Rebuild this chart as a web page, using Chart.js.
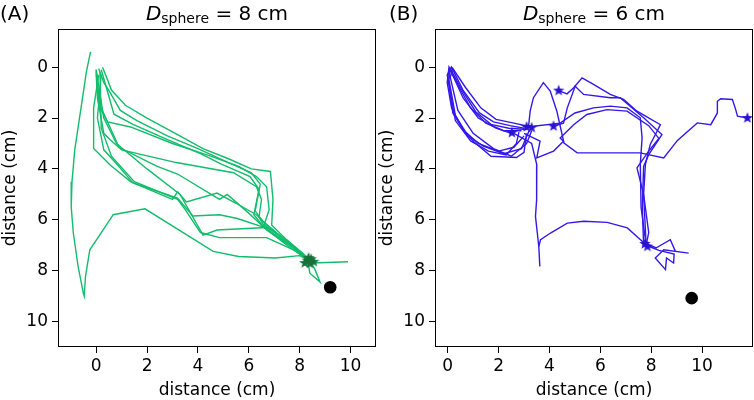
<!DOCTYPE html>
<html lang="en">
<head>
<meta charset="UTF-8">
<title>Trajectories</title>
<script src="https://cdn.jsdelivr.net/npm/chart.js"></script>
<style>
  html, body { margin: 0; padding: 0; background: #fff; }
  .panel { position: absolute; top: 0; width: 377px; height: 400px; }
</style>
</head>
<body>
<div class="panel" style="left:0"><canvas id="chartA" width="377" height="400"></canvas></div>
<div class="panel" style="left:377px"><canvas id="chartB" width="377" height="400"></canvas></div>
<script>
// axis ticks / limits (cm)
const tickValues = [0, 2, 4, 6, 8, 10]
const xLimitsA = [-1.5, 11]
const xLimitsB = [-0.5, 12]
const yLimits = [-1.5, 11]

// (A) D_sphere = 8 cm
const trackA1 = [[-0.22,-0.6],[-0.38,0.16],[-0.84,3.24],[-0.95,4.5],[-0.98,5.5],[-0.9,6.5],[-0.71,7.83],[-0.5,8.9],[-0.47,9.0],[-0.42,8.23],[-0.25,7.18],[0.28,6.39],[0.67,5.8],[1.92,5.57],[4.6,7.24],[5.6,7.44],[7.04,7.5],[8.0,7.41],[8.4,7.6]]
const trackA2 = [[0.25,0.0],[0.45,0.5],[0.6,0.9],[1.15,1.5],[2.0,2.0],[3.2,2.65],[4.2,3.2],[5.2,3.6],[6.1,4.0],[6.85,4.1],[6.95,5.2],[6.9,6.2],[7.5,6.8],[8.1,7.3],[8.4,7.6]]
const trackA3 = [[0.1,0.05],[0.3,0.6],[0.55,1.0],[0.95,1.7],[1.6,2.1],[2.8,2.7],[4.0,3.2],[5.2,3.75],[6.1,4.15],[6.45,4.6],[6.25,5.65],[6.55,6.05],[7.3,6.7],[8.3,7.55]]
const trackA4 = [[0.2,0.1],[0.4,0.8],[0.7,1.85],[1.45,2.25],[2.8,2.85],[4.1,3.4],[4.9,3.8],[6.05,4.3],[6.4,4.8],[6.2,5.8],[6.6,6.3],[7.5,7.0],[8.5,7.7],[9.9,7.65]]
const trackA5 = [[0.0,0.1],[0.1,1.5],[0.45,2.15],[1.35,2.35],[3.0,3.0],[4.5,3.5],[5.6,3.9],[6.3,4.3],[6.7,4.7],[6.8,5.6],[6.6,6.2],[7.6,6.9],[8.3,7.5],[8.4,8.1],[8.8,8.45],[8.6,7.95],[8.4,7.6]]
const trackA6 = [[0.0,0.3],[0.05,1.2],[0.3,2.6],[0.55,2.85],[1.0,3.25],[3.15,3.75],[5.4,4.15],[6.3,4.7],[6.5,5.2],[6.4,5.9],[6.7,6.4],[7.9,7.2],[8.3,7.6]]
const trackA7 = [[0.0,0.2],[0.15,1.5],[0.9,3.15],[2.4,3.9],[3.2,4.2],[4.85,5.2],[5.15,5.0],[5.9,5.65],[6.55,6.25],[7.6,7.0],[8.4,7.6]]
const trackA8 = [[0.1,0.3],[-0.1,1.6],[-0.1,3.2],[0.55,3.85],[1.35,4.5],[3.0,5.2],[3.2,4.9],[3.55,5.3],[4.75,4.95],[5.5,5.35],[6.3,5.8],[6.7,6.2],[7.8,7.1],[8.3,7.6]]
const trackA9 = [[0.2,0.3],[0.05,2.0],[0.3,3.25],[0.8,3.8],[1.45,4.55],[3.2,5.15],[3.8,5.85],[4.85,5.8],[5.55,5.95],[6.6,6.3],[7.8,7.1],[8.4,7.65]]
const trackA10 = [[0.15,0.2],[0.2,2.4],[0.6,3.5],[1.5,4.5],[3.2,5.2],[3.5,5.6],[4.1,6.5],[4.85,6.7],[6.7,6.7],[7.8,7.2],[8.35,7.6]]
const trackA11 = [[0.0,0.1],[0.3,2.0],[0.8,3.0],[2.0,4.0],[3.3,5.0],[4.2,6.6],[4.75,6.4],[6.7,6.3],[7.5,6.8],[8.3,7.5]]
const endsA = [[8.3,7.6],[8.45,7.55],[8.2,7.7],[8.55,7.65],[8.35,7.5],[8.4,7.72]]
const sphereA = [[9.2,8.65]]

// (B) D_sphere = 6 cm
const trackB1 = [[3.0,2.4],[2.45,2.3],[1.8,2.15],[1.25,1.8],[0.6,0.9],[0.15,0.0],[0.0,0.3],[0.2,1.8],[0.7,2.6],[1.05,2.95],[1.7,3.5],[2.7,3.55],[3.0,3.35],[3.1,2.6]]
const trackB2 = [[3.1,2.45],[2.4,2.4],[1.7,2.25],[1.1,1.75],[0.5,0.8],[0.1,0.05],[0.05,0.5],[0.3,1.9],[0.8,2.7],[1.4,3.1],[2.2,3.4],[2.9,3.2],[3.2,2.5]]
const trackB3 = [[2.9,2.5],[2.2,2.5],[1.5,2.2],[0.9,1.6],[0.4,0.7],[0.05,0.0],[-0.02,0.6],[0.15,1.6],[0.6,2.45],[1.2,3.0],[2.0,3.3],[2.6,3.15],[3.0,2.7]]
const trackB4 = [[3.3,2.35],[2.6,2.2],[1.9,2.05],[1.3,1.6],[0.7,0.8],[0.2,0.05],[0.1,0.4],[0.4,1.7],[1.0,2.6],[1.8,3.2],[2.5,3.5],[3.1,3.0],[3.3,2.5]]
const trackB5 = [[2.5,2.6],[1.9,2.4],[1.2,2.0],[0.6,1.2],[0.1,0.1],[-0.02,0.3],[0.3,2.1],[0.9,2.9],[1.6,3.3],[2.3,3.45],[2.7,3.0],[2.8,2.55]]
const trackB6 = [[3.17,2.4],[3.24,1.73],[3.37,1.2],[3.76,0.61],[4.03,0.94],[4.29,1.73],[4.57,2.98],[5.09,3.37],[7.57,3.37],[8.49,3.57],[9.03,2.88],[9.81,2.19],[10.34,2.26],[10.6,1.8],[10.6,1.34],[10.73,1.24],[11.19,1.27],[11.32,1.67],[11.39,1.93],[11.78,2.0]]
const trackB7 = [[4.36,0.92],[4.69,1.05],[4.95,0.81],[5.28,0.42],[5.73,0.68],[6.39,1.07],[6.91,1.27],[7.44,1.73],[8.36,2.26],[8.23,2.52],[7.96,3.04],[7.77,3.83],[7.7,5.0],[7.75,6.0],[7.8,7.0]]
const trackB8 = [[4.16,2.32],[4.55,2.2],[4.7,1.6],[5.01,0.75],[5.34,1.07],[6.39,1.2],[6.78,1.2],[7.7,1.99],[8.42,2.65],[8.16,3.04],[7.9,3.44],[7.7,3.9],[7.65,5.5],[7.7,7.0]]
const trackB9 = [[3.37,2.32],[4.42,2.2],[5.0,1.8],[5.73,1.6],[6.39,1.53],[7.05,1.6],[7.57,1.99],[7.64,2.78],[7.57,3.83],[7.6,5.5],[7.8,7.0]]
const trackB10 = [[3.0,2.6],[3.63,2.91],[3.5,3.57],[4.16,3.3],[4.55,2.91],[4.42,2.78],[4.95,2.26],[5.47,1.86],[6.26,1.67],[7.05,1.73],[7.9,2.3],[8.3,2.8],[7.9,3.3],[7.44,3.96],[7.7,5.0],[7.9,6.5],[7.8,7.0]]
const trackB11 = [[2.6,2.6],[3.3,3.0],[3.5,3.83],[3.5,4.4],[3.49,5.2],[3.45,5.87],[3.58,7.05],[3.62,7.83]]
const trackB12 = [[3.58,7.05],[3.65,6.78],[4.04,6.52],[4.7,6.13],[5.35,6.06],[6.27,6.1],[7.06,6.32],[7.72,6.91]]
const trackB13 = [[7.7,6.9],[8.2,7.1],[8.75,6.78],[8.95,7.24],[9.47,7.31],[8.49,7.18],[8.16,7.5],[8.56,7.96],[8.6,7.5],[8.88,7.7],[8.9,7.35],[8.3,7.2],[7.8,7.0]]
const endsB = [[2.52,2.58],[3.1,2.35],[3.3,2.38],[4.16,2.32],[4.36,0.92],[11.78,2.0],[7.75,6.95],[7.85,7.05]]
const sphereB = [[9.59,9.08]]

const greenLine = '#12bd6c'
const greenStar = '#17733a'
const blueLine = '#3318ec'
const blueStar = '#2a12d2'

function makeStar(color, r) {
  const c = document.createElement('canvas')
  const s = Math.ceil(r * 2 + 2)
  c.width = s
  c.height = s
  const g = c.getContext('2d')
  g.beginPath()
  for (let i = 0; i < 10; i++) {
    const rad = i % 2 === 0 ? r : r * 0.4
    const a = -Math.PI / 2 + i * Math.PI / 5
    g.lineTo(s / 2 + rad * Math.cos(a), s / 2 + rad * Math.sin(a))
  }
  g.closePath()
  g.fillStyle = color
  g.fill()
  return c
}

const toXY = pts => pts.map(p => ({ x: p[0], y: p[1] }))

// draws the full box round the plot plus panel tag and title
const panelDecor = {
  id: 'panelDecor',
  afterDraw(chart, args, opts) {
    const { ctx, chartArea: a } = chart
    ctx.save()
    ctx.strokeStyle = '#000'
    ctx.lineWidth = 1
    ctx.strokeRect(Math.round(a.left) + 0.5, Math.round(a.top) + 0.5,
      Math.round(a.right - a.left) - 1, Math.round(a.bottom - a.top) - 1)

    ctx.fillStyle = '#000'
    ctx.textBaseline = 'alphabetic'
    ctx.textAlign = 'left'
    ctx.font = '20px "DejaVu Sans"'
    ctx.fillText(opts.tag, opts.tagX, 19.5)

    const rest = ' = ' + opts.size + ' cm'
    ctx.font = 'italic 20px "DejaVu Sans"'
    const wD = ctx.measureText('D').width
    ctx.font = '14px "DejaVu Sans"'
    const wSub = ctx.measureText('sphere').width
    ctx.font = '20px "DejaVu Sans"'
    const wRest = ctx.measureText(rest).width
    let x = (a.left + a.right) / 2 - (wD + wSub + wRest) / 2
    ctx.font = 'italic 20px "DejaVu Sans"'
    ctx.fillText('D', x, 19.5)
    x += wD
    ctx.font = '14px "DejaVu Sans"'
    ctx.fillText('sphere', x, 22.5)
    x += wSub
    ctx.font = '20px "DejaVu Sans"'
    ctx.fillText(rest, x, 19.5)
    ctx.restore()
  }
}

function makePanel(id, tracks, ends, sphere, xLimits, lineColor, starColor, tag, tagX, size) {
  const star = makeStar(starColor, 6)
  const datasets = [
    { data: toXY(sphere), showLine: false, pointStyle: 'circle', pointRadius: 6.3,
      backgroundColor: '#000', borderWidth: 0 },
    { data: toXY(ends), showLine: false, pointStyle: star, pointRadius: 6 }
  ]
  tracks.forEach(t => {
    datasets.push({ data: toXY(t), showLine: true, pointRadius: 0,
      borderColor: lineColor, borderWidth: 1.4, tension: 0 })
  })

  const font = { family: 'DejaVu Sans', size: 17 }
  const axisCommon = {
    type: 'linear',
    border: { display: false },
    grid: { drawOnChartArea: false, drawTicks: true, tickLength: 6, color: '#000', tickWidth: 1 },
    afterBuildTicks: s => { s.ticks = tickValues.map(v => ({ value: v })) }
  }

  return new Chart(document.getElementById(id), {
    type: 'scatter',
    data: { datasets },
    options: {
      responsive: false,
      animation: false,
      devicePixelRatio: 1,
      // no auto padding for the marker size, the plot box has to be exact
      layout: { autoPadding: false, padding: { top: 29, right: 1, left: 0, bottom: 0 } },
      plugins: {
        legend: { display: false },
        tooltip: { enabled: false },
        panelDecor: { tag, tagX, size }
      },
      scales: {
        x: {
          ...axisCommon,
          min: xLimits[0], max: xLimits[1],
          ticks: { color: '#000', font, padding: 3, maxRotation: 0 },
          title: { display: true, text: 'distance (cm)', color: '#000', font, padding: { top: 0, bottom: -1 } },
          afterFit: s => { s.height = 53; s.paddingLeft = 0; s.paddingRight = 0 }
        },
        y: {
          ...axisCommon,
          reverse: true,
          min: yLimits[0], max: yLimits[1],
          ticks: { color: '#000', font, padding: 4 },
          title: { display: true, text: 'distance (cm)', color: '#000', font, padding: { top: 0, bottom: 0 } },
          afterFit: s => { s.width = 58; s.paddingTop = 0; s.paddingBottom = 0 }
        }
      }
    },
    plugins: [panelDecor]
  })
}

makePanel('chartA',
  [trackA1, trackA2, trackA3, trackA4, trackA5, trackA6, trackA7, trackA8, trackA9, trackA10, trackA11],
  endsA, sphereA, xLimitsA, greenLine, greenStar, '(A)', 0, 8)

makePanel('chartB',
  [trackB1, trackB2, trackB3, trackB4, trackB5, trackB6, trackB7, trackB8, trackB9, trackB10, trackB11, trackB12, trackB13],
  endsB, sphereB, xLimitsB, blueLine, blueStar, '(B)', 12, 6)
</script>
</body>
</html>
